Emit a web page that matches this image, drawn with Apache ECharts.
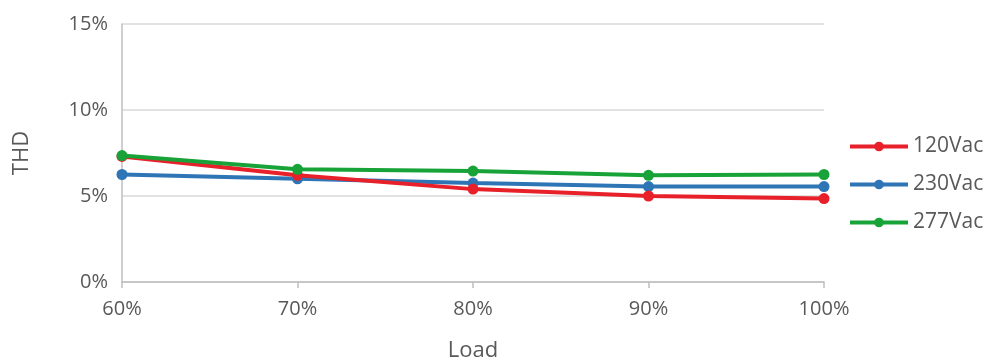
<!DOCTYPE html>
<html>
<head>
<meta charset="utf-8">
<script src="https://cdn.jsdelivr.net/npm/echarts@6/dist/echarts.min.js"></script>
<style>
  html, body { margin: 0; padding: 0; background: #fff; }
  #chart { width: 989px; height: 361px; }
</style>
</head>
<body>
<div id="chart"></div>
<script>
// Load points and THD readings (%) for each input voltage
const loadLabels = ['60%', '70%', '80%', '90%', '100%'];
const thd120 = [7.3, 6.2, 5.4, 5.0, 4.85];
const thd230 = [6.25, 6.0, 5.75, 5.55, 5.55];
const thd277 = [7.35, 6.55, 6.45, 6.2, 6.25];
const seriesNames = ['120Vac', '230Vac', '277Vac'];
const seriesColors = ['#e8202a', '#2e75b6', '#17a337'];

const textColor = '#595959';
const fontFamily = '"Open Sans", "Noto Sans", sans-serif';

const chart = echarts.init(document.getElementById('chart'));

const seriesData = [thd120, thd230, thd277];

chart.setOption({
  animation: false,
  textStyle: { fontFamily: fontFamily },
  grid: { left: 122, right: 165, top: 24, bottom: 79, containLabel: false, outerBoundsMode: 'none' },
  legend: {
    orient: 'vertical',
    left: 848,
    top: 136,
    padding: 0,
    itemWidth: 58,
    itemHeight: 12,
    itemGap: 17,
    lineStyle: { width: 4 },
    textStyle: { color: textColor, fontSize: 21, fontFamily: fontFamily },
    data: seriesNames
  },
  xAxis: {
    type: 'category',
    data: loadLabels,
    boundaryGap: false,
    name: 'Load',
    nameLocation: 'middle',
    nameGap: 58,
    nameTextStyle: { color: textColor, fontSize: 22, fontFamily: fontFamily },
    axisLine: { lineStyle: { color: '#bfbfbf', width: 1.5 } },
    axisTick: { show: true, length: 6, lineStyle: { color: '#bfbfbf', width: 1.5 } },
    axisLabel: { color: textColor, fontSize: 20, margin: 17, fontFamily: fontFamily },
    splitLine: { show: false }
  },
  yAxis: {
    type: 'value',
    min: 0,
    max: 15,
    interval: 5,
    name: 'THD',
    nameLocation: 'middle',
    nameGap: 89,
    nameRotate: 90,
    nameTextStyle: { color: textColor, fontSize: 22, fontFamily: fontFamily },
    axisLine: { show: true, lineStyle: { color: '#bfbfbf', width: 1.5 } },
    axisTick: { show: false },
    axisLabel: { color: textColor, fontSize: 20, margin: 14, fontFamily: fontFamily, formatter: v => v + '%' },
    splitLine: { show: true, lineStyle: { color: '#d9d9d9', width: 1.5 } }
  },
  series: seriesNames.map((name, i) => ({
    name: name,
    type: 'line',
    data: seriesData[i],
    symbol: 'circle',
    symbolSize: 11,
    lineStyle: { color: seriesColors[i], width: 4 },
    itemStyle: { color: seriesColors[i] },
    z: i === 0 ? 3 : (i === 1 ? 2 : 4)
  }))
});
</script>
</body>
</html>
